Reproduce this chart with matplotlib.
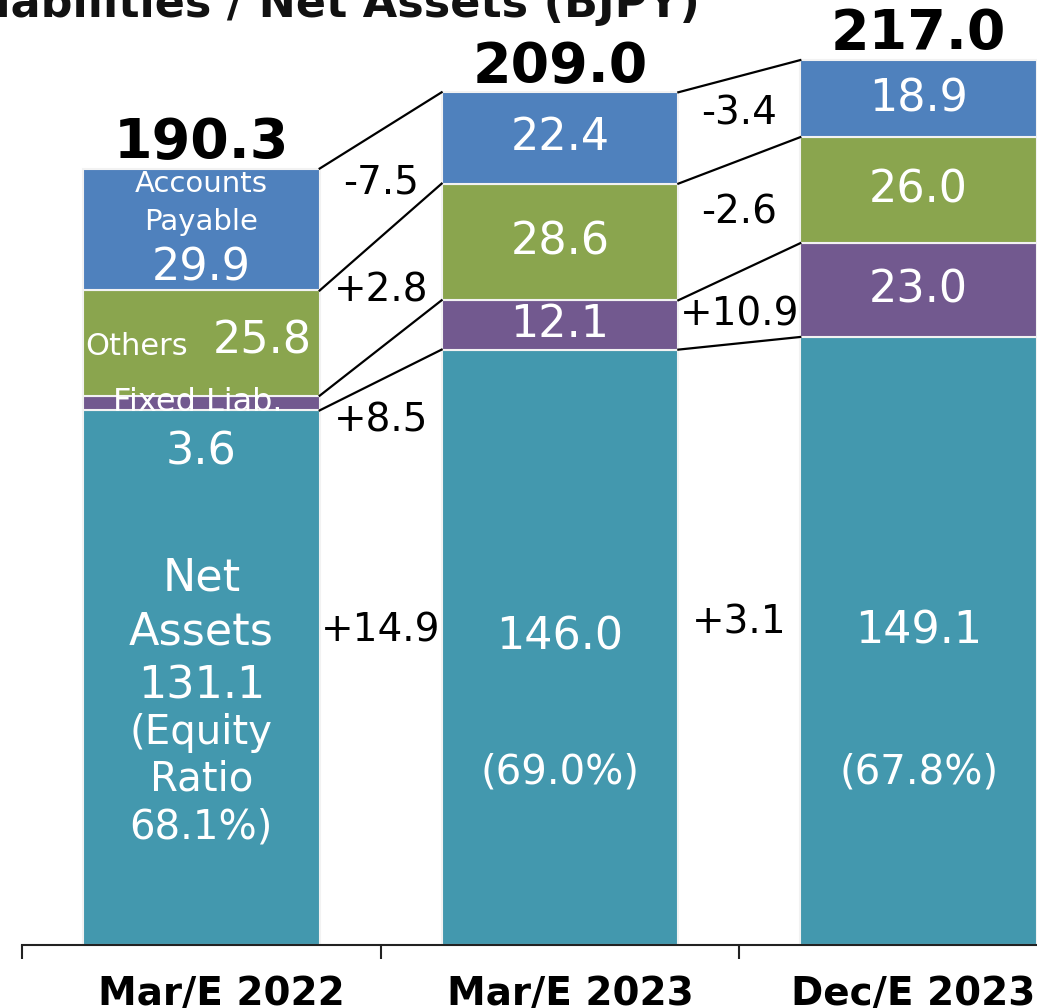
import numpy as np
import matplotlib.pyplot as plt

# Data (BJPY)
categories = ['Mar/E 2022', 'Mar/E 2023', 'Dec/E 2023']
net_assets = [131.1, 146.0, 149.1]
fixed_liab = [3.6, 12.1, 23.0]
others = [25.8, 28.6, 26.0]
accounts_payable = [29.9, 22.4, 18.9]
totals = ['190.3', '209.0', '217.0']
equity_ratio = ['68.1%', '69.0%', '67.8%']

# changes between periods (bottom segment first)
changes_1 = ['+14.9', '+8.5', '+2.8', '-7.5']
changes_2 = ['+3.1', '+10.9', '-2.6', '-3.4']
changes_1_y = [77.2, 128.7, 160.6, 187.1]
changes_2_y = [79.2, 154.5, 179.5, 204.0]

# category label positions (slightly off-centre in the original)
label_x = [0.056, 1.028, 1.986]

c_net = '#4398AE'
c_fix = '#72598F'
c_oth = '#8AA54E'
c_ap = '#4F81BD'

fig = plt.figure(figsize=(10.37, 10.08), dpi=100)
ax = fig.add_axes([22 / 1037, 63 / 1008, 1 - 22 / 1037, 945 / 1008])

x = np.arange(len(categories))
w = 0.66
series = [net_assets, fixed_liab, others, accounts_payable]
colors = [c_net, c_fix, c_oth, c_ap]
bottom = np.zeros(len(categories))
bounds = [bottom.copy()]
for vals, col in zip(series, colors):
    ax.bar(x, vals, w, bottom=bottom, color=col, edgecolor='#f2f2f2', linewidth=1.5, zorder=2)
    bottom = bottom + np.array(vals)
    bounds.append(bottom.copy())

# connector lines between bars
for i in range(len(categories) - 1):
    for b in bounds[1:]:
        ax.plot([x[i] + w / 2, x[i + 1] - w / 2], [b[i], b[i + 1]], color='black', lw=1.6, zorder=3)

# totals
for i, t in enumerate(totals):
    ax.text(x[i], bounds[-1][i] + 2.6, t, ha='center', va='baseline', fontsize=40, fontweight='bold', color='black')

# change labels
for lbl, yy in zip(changes_1, changes_1_y):
    ax.text(0.5, yy, lbl, ha='center', va='center', fontsize=28, color='black')
for lbl, yy in zip(changes_2, changes_2_y):
    ax.text(1.5, yy, lbl, ha='center', va='center', fontsize=28, color='black')

wt = dict(color='white', ha='center', va='center')
big = 32
paren = 29

# first bar labels
ax.text(0, 186.7, 'Accounts', fontsize=21, **wt)
ax.text(0, 177.4, 'Payable', fontsize=21, **wt)
ax.text(0, 166.1, f'{accounts_payable[0]:.1f}', fontsize=big, **wt)
ax.text(-0.18, 146.7, 'Others', fontsize=22, **wt)
ax.text(0.17, 148.0, f'{others[0]:.1f}', fontsize=big, **wt)
ax.text(-0.01, 133.0, 'Fixed Liab.', fontsize=23, **wt)
ax.text(0, 121.0, f'{fixed_liab[0]:.1f}', fontsize=big, **wt)
ax.text(0, 90.0, 'Net', fontsize=big, **wt)
ax.text(0, 76.8, 'Assets', fontsize=big, **wt)
ax.text(0, 63.6, f'{net_assets[0]:.1f}', fontsize=big, **wt)
ax.text(0, 52.0, '(Equity', fontsize=paren, **wt)
ax.text(0, 40.5, 'Ratio', fontsize=paren, **wt)
ax.text(0, 28.8, equity_ratio[0] + ')', fontsize=paren, **wt)

# other bars
for i in (1, 2):
    for k, vals in enumerate(series[1:], start=1):
        mid = (bounds[k][i] + bounds[k + 1][i]) / 2
        ax.text(x[i], mid, f'{vals[i]:.1f}', fontsize=big, **wt)
    ax.text(x[i], bounds[1][i] / 2 + 2.5, f'{net_assets[i]:.1f}', fontsize=big, **wt)
    ax.text(x[i], 42.2, f'({equity_ratio[i]})', fontsize=paren, **wt)

ax.set_xlim(-0.5, 2.33)
ax.set_ylim(0, 945 / 4.078)

for s in ['top', 'right', 'left']:
    ax.spines[s].set_visible(False)
ax.spines['bottom'].set_linewidth(1.5)
ax.spines['bottom'].set_color('#222222')
ax.set_yticks([])
ax.set_xticks([-0.5, 0.5, 1.5])
ax.set_xticklabels([])
ax.tick_params(axis='x', which='major', length=10, width=1.5, color='#222222', direction='out')
ax.set_xticks(label_x, minor=True)
ax.set_xticklabels(categories, minor=True, fontsize=28, fontweight='bold')
ax.tick_params(axis='x', which='minor', length=0, pad=22)

fig.text(700 / 1037, 1 - 17 / 1008, 'Liabilities / Net Assets (BJPY)', ha='right', va='baseline',
         fontsize=32, fontweight='bold', color='#111111')

fig.savefig('out.png', dpi=100)
